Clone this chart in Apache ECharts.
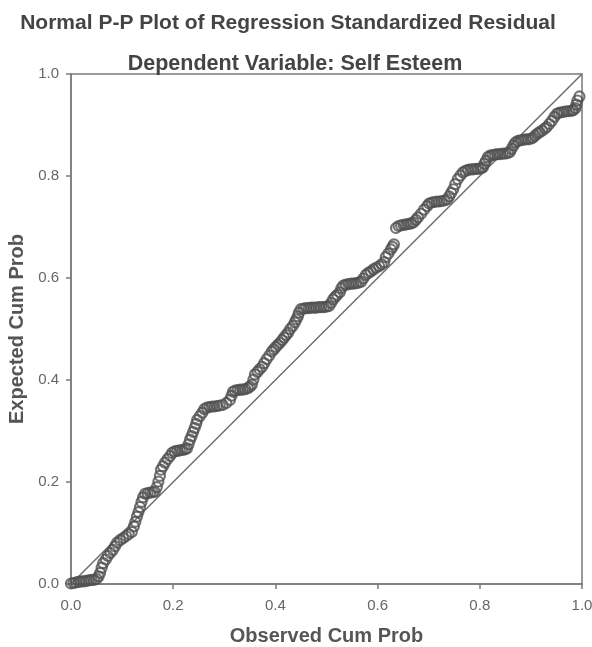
<!DOCTYPE html>
<html>
<head>
<meta charset="utf-8">
<script src="https://cdn.jsdelivr.net/npm/echarts@6/dist/echarts.min.js"></script>
<style>html,body{margin:0;padding:0;background:#fff}#c{width:592px;height:647px}</style>
</head>
<body>
<div id="c"></div>
<script>
const titleText = 'Normal P-P Plot of Regression Standardized Residual';
const subtitleText = 'Dependent Variable: Self Esteem';
const xName = 'Observed Cum Prob';
const yName = 'Expected Cum Prob';
const tickValues = [0.0, 0.2, 0.4, 0.6, 0.8, 1.0];
const referenceLine = [[0, 0], [1, 1]];
const ppPoints = [
[0.000,0.001],[0.005,0.002],[0.010,0.003],[0.015,0.004],[0.020,0.005],[0.025,0.005],[0.030,0.006],[0.035,0.007],[0.040,0.008],[0.045,0.008],[0.050,0.010],
[0.054,0.015],[0.057,0.022],[0.060,0.032],[0.063,0.041],[0.068,0.048],[0.072,0.055],[0.077,0.061],[0.082,0.067],[0.086,0.074],[0.090,0.081],[0.096,0.086],[0.102,0.090],[0.108,0.094],[0.113,0.098],[0.119,0.102],[0.123,0.113],[0.126,0.122],[0.129,0.132],[0.132,0.141],[0.135,0.151],[0.138,0.161],[0.141,0.170],
[0.145,0.177],[0.150,0.178],[0.155,0.179],[0.160,0.180],[0.164,0.181],
[0.168,0.190],[0.171,0.201],[0.174,0.212],[0.176,0.224],[0.180,0.231],[0.184,0.238],[0.189,0.245],[0.194,0.251],[0.198,0.257],
[0.203,0.260],[0.208,0.261],[0.213,0.262],[0.218,0.263],[0.223,0.264],[0.227,0.266],
[0.230,0.274],[0.233,0.283],[0.236,0.290],[0.239,0.298],[0.242,0.306],[0.245,0.314],[0.247,0.322],[0.252,0.329],[0.257,0.336],
[0.261,0.343],[0.266,0.346],[0.271,0.347],[0.276,0.348],[0.281,0.348],[0.286,0.349],[0.291,0.350],[0.297,0.351],
[0.304,0.355],[0.311,0.361],[0.314,0.369],[0.317,0.377],
[0.321,0.379],[0.326,0.380],[0.331,0.381],[0.336,0.381],[0.341,0.382],[0.346,0.384],
[0.350,0.387],[0.354,0.391],[0.357,0.401],[0.360,0.411],[0.365,0.416],[0.369,0.421],[0.374,0.426],[0.378,0.433],[0.383,0.441],[0.388,0.448],[0.393,0.456],[0.397,0.460],[0.401,0.465],[0.405,0.469],[0.409,0.473],[0.413,0.478],[0.417,0.483],[0.421,0.488],[0.425,0.493],[0.429,0.500],[0.434,0.506],[0.438,0.513],[0.441,0.519],[0.444,0.525],[0.446,0.532],
[0.450,0.539],[0.455,0.540],[0.460,0.541],[0.465,0.541],[0.470,0.542],[0.475,0.542],[0.480,0.542],[0.485,0.543],[0.490,0.543],[0.495,0.543],[0.500,0.544],[0.505,0.545],
[0.509,0.551],[0.513,0.558],[0.517,0.563],[0.521,0.567],[0.526,0.572],[0.529,0.580],
[0.533,0.585],[0.538,0.587],[0.543,0.588],[0.548,0.589],[0.553,0.589],[0.558,0.590],[0.563,0.591],[0.568,0.593],
[0.572,0.599],[0.577,0.606],[0.582,0.610],[0.587,0.613],[0.592,0.617],[0.597,0.620],[0.603,0.623],[0.608,0.627],[0.613,0.631],[0.616,0.641],[0.621,0.648],[0.626,0.656],[0.629,0.661],[0.632,0.666],
[0.636,0.698],[0.641,0.702],[0.646,0.703],[0.651,0.704],[0.656,0.705],[0.661,0.706],[0.666,0.707],[0.670,0.709],
[0.675,0.714],[0.679,0.719],[0.685,0.726],[0.691,0.734],[0.697,0.741],
[0.701,0.746],[0.706,0.748],[0.711,0.749],[0.716,0.750],[0.721,0.750],[0.726,0.751],[0.731,0.752],[0.736,0.754],
[0.740,0.760],[0.744,0.767],[0.748,0.774],[0.752,0.784],[0.757,0.794],[0.762,0.801],[0.767,0.807],
[0.772,0.810],[0.777,0.812],[0.782,0.813],[0.787,0.813],[0.792,0.814],[0.797,0.814],[0.802,0.815],[0.806,0.817],
[0.809,0.824],[0.812,0.830],[0.816,0.837],
[0.820,0.840],[0.825,0.841],[0.830,0.842],[0.835,0.843],[0.840,0.843],[0.845,0.844],[0.850,0.844],[0.855,0.845],[0.859,0.847],
[0.862,0.853],[0.866,0.860],
[0.870,0.866],[0.875,0.869],[0.880,0.870],[0.885,0.871],[0.890,0.872],[0.895,0.872],[0.900,0.873],[0.904,0.875],
[0.908,0.879],[0.913,0.883],[0.917,0.886],[0.922,0.889],[0.927,0.893],[0.931,0.896],[0.936,0.902],[0.941,0.908],[0.946,0.916],[0.951,0.922],
[0.955,0.924],[0.960,0.925],[0.965,0.926],[0.970,0.927],[0.975,0.927],[0.980,0.928],[0.983,0.929],
[0.987,0.933],[0.989,0.940],[0.991,0.948],[0.995,0.956]
];

const font = 'Liberation Sans, Arial, sans-serif';
const axisCommon = {
  type: 'value', min: 0, max: 1, interval: 0.2,
  axisLine: { show: true, lineStyle: { color: '#7a7a7a', width: 1.5 } },
  axisTick: { show: true, inside: false, length: 5, lineStyle: { color: '#7a7a7a', width: 1.5 } },
  splitLine: { show: false },
  nameLocation: 'middle',
  nameTextStyle: { fontFamily: font, fontWeight: 'bold', fontSize: 20, color: '#555' },
  axisLabel: { fontFamily: font, fontSize: 15, color: '#666',
    formatter: v => { const t = tickValues.find(s => Math.abs(s - v) < 1e-6); return t === undefined ? '' : t.toFixed(1); } }
};
const chart = echarts.init(document.getElementById('c'), null, { renderer: 'canvas' });
chart.setOption({
  animation: false,
  backgroundColor: '#fff',
  title: [
    { text: titleText, left: 283, top: 8, textAlign: 'center',
      textStyle: { fontFamily: font, fontWeight: 'bold', fontSize: 21, color: '#444' } },
    { text: subtitleText, left: 290, top: 48, textAlign: 'center',
      textStyle: { fontFamily: font, fontWeight: 'bold', fontSize: 21.5, color: '#444' } }
  ],
  grid: { left: 71, right: 10, top: 74, bottom: 63, show: true, borderColor: '#7a7a7a', borderWidth: 1.5,
    containLabel: false, outerBoundsMode: 'none' },
  xAxis: Object.assign({}, axisCommon, { name: xName, nameGap: 42,
    axisLabel: Object.assign({}, axisCommon.axisLabel, { margin: 14 }) }),
  yAxis: Object.assign({}, axisCommon, { name: yName, nameGap: 37,
    axisLabel: Object.assign({}, axisCommon.axisLabel, { margin: 12 }) }),
  series: [
    { type: 'line', data: referenceLine, symbol: 'none', silent: true,
      lineStyle: { color: '#6e6e6e', width: 1.5 }, z: 1 },
    { type: 'scatter', data: ppPoints, symbol: 'circle', symbolSize: 10,
      itemStyle: { color: 'rgba(255,255,255,0)', borderColor: '#505050', borderWidth: 2.2 }, z: 2 }
  ]
});
</script>
</body>
</html>
